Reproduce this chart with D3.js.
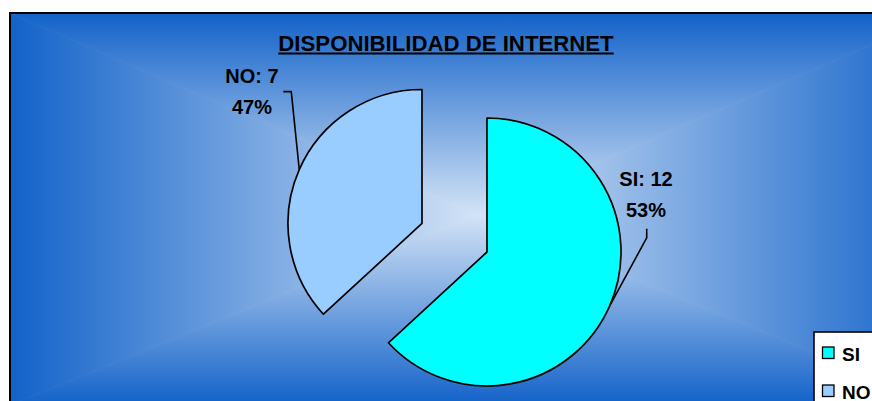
<!DOCTYPE html>
<html>
<head>
<meta charset="utf-8">
<script src="https://cdn.jsdelivr.net/npm/d3@7/dist/d3.min.js"></script>
<style>
  html, body { margin: 0; padding: 0; background: #ffffff; }
  svg { display: block; }
  text { font-family: "Liberation Sans", Arial, sans-serif; font-weight: bold; fill: #000; }
</style>
</head>
<body>
<svg id="chart" width="872" height="401"></svg>
<script>
// Survey answers: internet availability
const categories = ["SI", "NO"];
const values = [12, 7];
const percentLabels = ["53%", "47%"];
const sliceColors = ["#00ffff", "#99ccff"];
const chartTitle = "DISPONIBILIDAD DE INTERNET";

const svg = d3.select("#chart");

// ---- chart area: rectangular "from centre" gradient built from four triangles
const frame = { x0: 10, y0: 13, x1: 944, y1: 405 };
const mid = { x: 477, y: 215 };
const edgeColor = "#1262c9";
const centerColor = "#d3e3f6";
const defs = svg.append("defs");

const sides = [
  { id: "gTop",    pts: [[frame.x0, frame.y0], [frame.x1, frame.y0], [mid.x, mid.y]], g: [0, frame.y0, 0, mid.y] },
  { id: "gBottom", pts: [[frame.x0, frame.y1], [frame.x1, frame.y1], [mid.x, mid.y]], g: [0, frame.y1, 0, mid.y] },
  { id: "gLeft",   pts: [[frame.x0, frame.y0], [frame.x0, frame.y1], [mid.x, mid.y]], g: [frame.x0, 0, mid.x, 0] },
  { id: "gRight",  pts: [[frame.x1, frame.y0], [frame.x1, frame.y1], [mid.x, mid.y]], g: [frame.x1, 0, mid.x, 0] }
];
sides.forEach(s => {
  const lg = defs.append("linearGradient").attr("id", s.id)
    .attr("gradientUnits", "userSpaceOnUse")
    .attr("x1", s.g[0]).attr("y1", s.g[1]).attr("x2", s.g[2]).attr("y2", s.g[3]);
  lg.append("stop").attr("offset", 0).attr("stop-color", edgeColor);
  lg.append("stop").attr("offset", 1).attr("stop-color", centerColor);
});
const bg = svg.append("g");
sides.forEach(s => {
  bg.append("path")
    .attr("d", "M" + s.pts.map(p => p.join(",")).join("L") + "Z")
    .attr("fill", `url(#${s.id})`)
    .attr("stroke", `url(#${s.id})`)
    .attr("stroke-width", 0.8);
});
svg.append("rect")
  .attr("x", frame.x0).attr("y", frame.y0)
  .attr("width", frame.x1 - frame.x0).attr("height", frame.y1 - frame.y0)
  .attr("fill", "none").attr("stroke", "#000").attr("stroke-width", 2);

// ---- title
const title = svg.append("text")
  .attr("x", 446).attr("y", 51)
  .attr("text-anchor", "middle")
  .style("font-size", "22.2px")
  .text(chartTitle);
const tw = title.node().getComputedTextLength();
svg.append("line")
  .attr("x1", 446 - tw / 2).attr("x2", 446 + tw / 2)
  .attr("y1", 53.5).attr("y2", 53.5)
  .attr("stroke", "#000").attr("stroke-width", 2);

// ---- pie
const cx = 487, cy = 252, radius = 134;
const explode = [0, 71];          // NO slice is pulled out of the pie
const pie = d3.pie().sort(null).value(d => d);
const arcs = pie(values);
const arc = d3.arc().innerRadius(0).outerRadius(radius);

const pieG = svg.append("g").attr("transform", `translate(${cx},${cy})`);

arcs.forEach((a, i) => {
  const m = (a.startAngle + a.endAngle) / 2;
  a.dx = Math.sin(m) * explode[i];
  a.dy = -Math.cos(m) * explode[i];
  a.mid = m;
});

pieG.selectAll("path.slice")
  .data(arcs)
  .join("path")
  .attr("class", "slice")
  .attr("transform", d => `translate(${d.dx},${d.dy})`)
  .attr("d", arc)
  .attr("fill", (d, i) => sliceColors[i])
  .attr("stroke", "#000")
  .attr("stroke-width", 1.7)
  .attr("stroke-linejoin", "round");

// ---- data labels with leader lines
const labelLayout = [
  { elbow: [37, -68], end: [0, -9], tx: 646, ty: 186 },   // SI
  { elbow: [-8, -78], end: [-8, 0], tx: 252, ty: 83 }     // NO
];
arcs.forEach((a, i) => {
  const L = labelLayout[i];
  const ax = cx + a.dx + Math.sin(a.mid) * radius;
  const ay = cy + a.dy - Math.cos(a.mid) * radius;
  const ex = ax + L.elbow[0], ey = ay + L.elbow[1];
  svg.append("path")
    .attr("d", `M${ax},${ay}L${ex},${ey}L${ex + L.end[0]},${ey + L.end[1]}`)
    .attr("fill", "none").attr("stroke", "#000").attr("stroke-width", 1.6);
  const t = svg.append("text")
    .attr("x", L.tx).attr("y", L.ty)
    .attr("text-anchor", "middle")
    .style("font-size", "20px");
  t.append("tspan").attr("x", L.tx).attr("dy", 0)
    .text(`${categories[i]}: ${values[i]}`);
  t.append("tspan").attr("x", L.tx).attr("dy", 30.5)
    .text(percentLabels[i]);
});

// ---- legend
const legend = svg.append("g");
legend.append("rect")
  .attr("x", 814).attr("y", 332)
  .attr("width", 120).attr("height", 100)
  .attr("fill", "#ffffff").attr("stroke", "#000").attr("stroke-width", 1.6);
categories.forEach((c, i) => {
  const y = 347 + i * 38;
  legend.append("rect")
    .attr("x", 822.5).attr("y", y)
    .attr("width", 11.5).attr("height", 11.5)
    .attr("fill", sliceColors[i]).attr("stroke", "#000").attr("stroke-width", 1.3);
  legend.append("text")
    .attr("x", 842).attr("y", y + 13.5)
    .style("font-size", "19px")
    .text(c);
});
</script>
</body>
</html>
